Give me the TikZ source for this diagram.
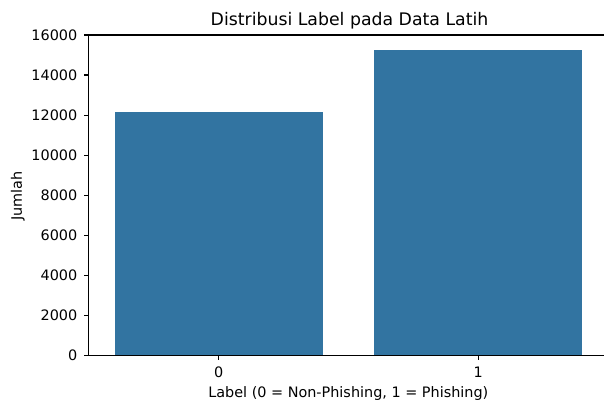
\documentclass[tikz,border=0pt]{standalone}
\usepackage{fontspec}
\setmainfont{DejaVu Sans}
\definecolor{barblue}{HTML}{3274A1}
\begin{document}
\begin{tikzpicture}[x=1pt,y=-1pt,
  axisline/.style={line width=1.1pt,black,line cap=rect},
  tickmark/.style={line width=1.1pt,black},
  ticklabel/.style={font=\fontsize{14.4}{17}\selectfont,inner sep=0pt},
  barfill/.style={fill=barblue,draw=none},
  titletext/.style={font=\fontsize{17.3}{20}\selectfont,inner sep=0pt}]
\useasboundingbox (0,0) rectangle (604,403);
% bars: value v maps to y = 355.3 - 0.020019*v  (0.020019 = 320.3/16000)
\fill[barfill] (114.7,355.3) rectangle (322.7,{355.3-0.020019*12150});
\fill[barfill] (374.3,355.3) rectangle (582.3,{355.3-0.020019*15250});
% spines
\draw[axisline] (604,35) -- (88.5,35) -- (88.5,355.3) -- (604,355.3);
% y ticks every 2000 (step 2000 -> 40.04 units)
\foreach \i/\v in {0/0,1/2000,2/4000,3/6000,4/8000,5/10000,6/12000,7/14000,8/16000}{
  \draw[tickmark] (88.5,{355.3-40.0375*\i}) -- (83.6,{355.3-40.0375*\i});
  \node[ticklabel,anchor=base east] (y\i) at (77.5,{355.3-40.0375*\i+5.25}) {\v};
}
% x ticks and labels
\foreach \c/\xc in {0/218.7,1/478.3}{
  \draw[tickmark] (\xc,355.3) -- (\xc,360.2);
  \node[ticklabel,anchor=base] (x\c) at (\xc,377.2) {\c};
}
\node[ticklabel,anchor=base] (xlabel) at (348.3,397.2) {Label (0 = Non-Phishing, 1 = Phishing)};
\node[ticklabel,anchor=base,rotate=90] (ylabel) at (21.8,196) {Jumlah};
\node[titletext,anchor=base] (title) at (349.5,26) {Distribusi Label pada Data Latih};
\end{tikzpicture}
\end{document}
